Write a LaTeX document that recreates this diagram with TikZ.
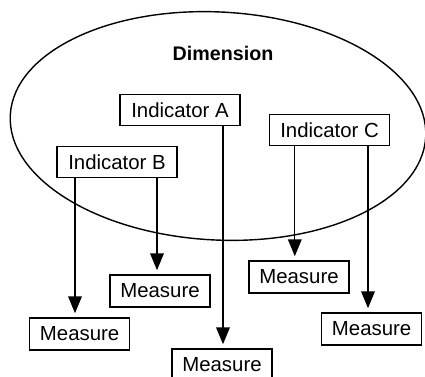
\documentclass[tikz,border=0pt]{standalone}
\usepackage{fontspec}
\setmainfont{Liberation Sans}
\usetikzlibrary{shapes, arrows.meta, positioning}
\tikzset{
    indic/.style={rectangle, draw, line width=1.1pt, minimum width=3cm, minimum height=0.78cm, align=center, font=\fontsize{14.5}{16}\selectfont},
    meas/.style={rectangle, draw, line width=1.1pt, minimum width=2.5cm, minimum height=0.8cm, align=center, font=\fontsize{14.5}{16}\selectfont},
    arr/.style={-{Triangle[length=0.42cm, width=0.34cm]}, line width=0.9pt, shorten >=0.1cm},
}
\begin{document}
\begin{tikzpicture}

\useasboundingbox (0,0) rectangle (10.625,9.4);

% ── Dimension ──
\draw[line width=1pt, rotate around={-3:(5.45,6.25)}] (5.45,6.25) ellipse [x radius=5.2cm, y radius=2.85cm];
\node[font=\fontsize{14}{16}\selectfont\bfseries] (dim) at (5.575, 8.075) {Dimension};

% ── Indicators ──
\node[indic] (indA) at (4.5, 6.65) {Indicator A};
\node[indic] (indB) at (2.925, 5.35) {Indicator B};
\node[indic] (indC) at (8.24, 6.15) {Indicator C};

% ── Measures ──
\node[meas] (m1) at (1.99, 1.05) {Measure};
\node[meas] (m2) at (4.0, 2.125) {Measure};
\node[meas] (m3) at (5.55, 0.275) {Measure};
\node[meas] (m4) at (7.475, 2.475) {Measure};
\node[meas] (m5) at (9.29, 1.175) {Measure};

% ── Arrows ──
\draw[arr] ([xshift=-1.05cm]indB.south) -- ([xshift=-1.05cm]indB.south |- m1.north);
\draw[arr] ([xshift=1.0cm]indB.south) -- ([xshift=1.0cm]indB.south |- m2.north);
\draw[arr] ([xshift=1.075cm]indA.south) -- ([xshift=1.075cm]indA.south |- m3.north);
\draw[arr] ([xshift=-0.87cm]indC.south) -- ([xshift=-0.87cm]indC.south |- m4.north);
\draw[arr] ([xshift=0.96cm]indC.south) -- ([xshift=0.96cm]indC.south |- m5.north);

\end{tikzpicture}
\end{document}
